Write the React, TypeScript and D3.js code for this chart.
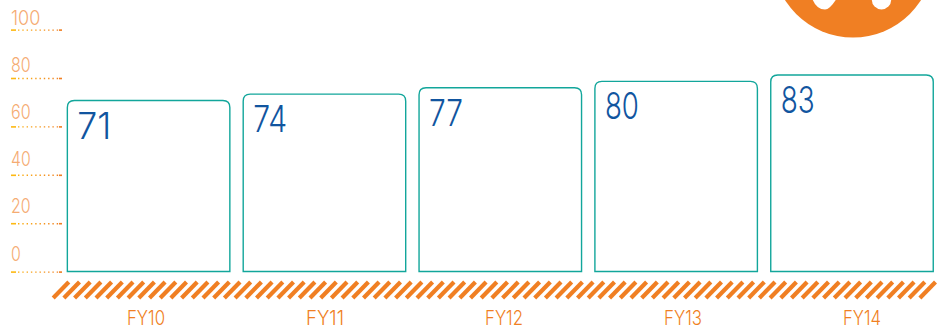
import React from "react";
import * as d3 from "d3";

const years = ["FY10", "FY11", "FY12", "FY13", "FY14"];
const values = [71, 74, 77, 80, 83];
const axisTicks = [0, 20, 40, 60, 80, 100];

const W = 947;
const H = 334;
const BASE_Y = 271.5;
const ORANGE = "#f07f23";
const TEAL = "#12a69b";
const BLUE = "#11559f";
const FONT = "Inter, Roboto, sans-serif";

export default function App() {
  const tickY = d3.scaleLinear().domain([0, 100]).range([272, 30]);
  const tickLabelY = d3.scaleLinear().domain([0, 100]).range([260.5, 24.5]);
  const barTop = d3.scaleLinear().domain([71, 83]).range([100.5, 75]);
  const barX = d3.scalePoint<string>().domain(years).range([148.6, 852]);
  const labelX = d3.scalePoint<string>().domain(years).range([146, 862]);
  const stripes = d3.range(82).map((i) => 53.2 + i * 10.7);
  const barW = 162.5;
  const r = 7;

  return (
    <svg
      width={W}
      height={H}
      viewBox={`0 0 ${W} ${H}`}
      style={{ position: "fixed", left: 0, top: 0, background: "#fff" }}
      fontFamily={FONT}
    >
      <defs>
        <linearGradient id="tickFade" gradientUnits="userSpaceOnUse" x1="11" x2="62" y1="0" y2="0">
          <stop offset="0" stopColor="#fdb913" />
          <stop offset="1" stopColor={ORANGE} />
        </linearGradient>
      </defs>

      {/* badge at the top right, cut off by the page edge */}
      <circle cx={853} cy={-42.9} r={80.4} fill={ORANGE} />
      <path d="M812 -2 Q816 9.5 825 9.5 Q830 9.5 837 -2 Z" fill="#fff" />
      <circle cx={881.5} cy={-0.3} r={9.7} fill="#fff" />

      {axisTicks.map((t) => (
        <g key={t}>
          <text
            x={11}
            y={tickLabelY(t)}
            fontSize={20.5}
            fontWeight={300}
            fill="#f5ab72"
            textLength={String(t).length * 9.8}
            lengthAdjust="spacingAndGlyphs"
          >
            {t}
          </text>
          <rect x={11} y={tickY(t) - 0.7} width={5} height={1.6} fill="#fdb913" />
          <line
            x1={18}
            x2={59}
            y1={tickY(t) + 0.1}
            y2={tickY(t) + 0.1}
            stroke="url(#tickFade)"
            strokeWidth={1.4}
            strokeDasharray="1.4 2.9"
          />
          <rect x={59} y={tickY(t) - 0.7} width={3} height={1.6} fill={ORANGE} />
        </g>
      ))}

      {years.map((y, i) => {
        const cx = barX(y)!;
        const x0 = cx - barW / 2;
        const x1 = cx + barW / 2;
        const top = barTop(values[i]);
        return (
          <g key={y}>
            <path
              d={`M${x0} ${BASE_Y}V${top + r}Q${x0} ${top} ${x0 + r} ${top}H${x1 - r}Q${x1} ${top} ${x1} ${top + r}V${BASE_Y}Z`}
              fill="#fff"
              stroke={TEAL}
              strokeWidth={1.4}
            />
            <text
              x={x0 + 10}
              y={top + 38}
              fontSize={37}
              fontWeight={300}
              fill={BLUE}
              textLength={34}
              lengthAdjust="spacingAndGlyphs"
            >
              {values[i]}
            </text>
            <text
              x={labelX(y)!}
              y={325}
              fontSize={20}
              fontWeight={300}
              textAnchor="middle"
              fill={ORANGE}
              textLength={38}
              lengthAdjust="spacingAndGlyphs"
            >
              {y}
            </text>
          </g>
        );
      })}

      {stripes.map((x) => (
        <line key={x} x1={x} y1={298} x2={x + 15.6} y2={282} stroke={ORANGE} strokeWidth={4.2} />
      ))}
    </svg>
  );
}
